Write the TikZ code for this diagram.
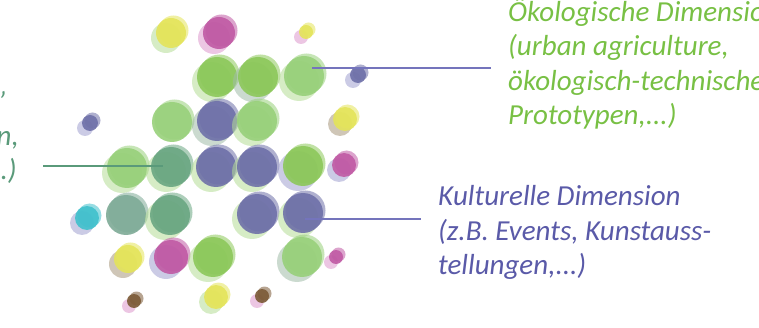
\documentclass[tikz,border=0pt]{standalone}
\usepackage{fontspec}
\setmainfont{Carlito}
\definecolor{gr}{HTML}{8CC85A}
\definecolor{lg}{HTML}{98D07A}
\definecolor{bl}{HTML}{6E70A8}
\definecolor{tg}{HTML}{6AA682}
\definecolor{tl}{HTML}{7DAA96}
\definecolor{ye}{HTML}{E4E45A}
\definecolor{mg}{HTML}{C05AA4}
\definecolor{cy}{HTML}{40C0CC}
\definecolor{br}{HTML}{7B5A36}
\definecolor{sg}{HTML}{B4DC96}
\definecolor{sl}{HTML}{A0A0D0}
\definecolor{sp}{HTML}{DC98CC}
\definecolor{sb}{HTML}{A8987C}
\definecolor{sy}{HTML}{A0BCA8}
\definecolor{txgreen}{HTML}{78C044}
\definecolor{txblue}{HTML}{5A5AA8}
\definecolor{txteal}{HTML}{5A9A7A}
\definecolor{lnblue}{HTML}{7474BC}
\newcommand{\blob}[6]{%
  \ifx\relax#6\relax\else
    \fill[#6, fill opacity=0.55] (#2-5,#3+5) circle[radius=#4];
  \fi
  \fill[#5, fill opacity=0.55] (#2+2.5,#3-2.5) circle[radius=#4];
  \node[blobnode, fill=#5, minimum size=2*#4 pt] (#1) at (#2,#3) {};
}
\tikzset{
  blobnode/.style={circle, inner sep=0pt, outer sep=0pt, fill opacity=0.9},
  txtblock/.style={font=\fontsize{29}{34.5}\selectfont\itshape, inner sep=0pt, align=left, anchor=base west},
  leftfrag/.style={font=\fontsize{29}{34.5}\selectfont\itshape, inner sep=0pt, anchor=base east, text=txteal},
  link/.style={line width=1.5pt}
}
\begin{document}
\begin{tikzpicture}[x=1pt,y=-1pt]
\useasboundingbox (0,0) rectangle (759,328);
\clip (0,0) rectangle (759,328);
% top
\blob{c1}{171}{33}{15}{ye}{sg}
\blob{c2}{219}{33}{16}{mg}{sp}
\blob{c3}{306}{32}{7}{ye}{sp}
% row 2
\blob{c4}{217}{77}{20}{gr}{sg}
\blob{c5}{258}{77}{20}{gr}{sy}
\blob{c6}{304}{76}{20}{lg}{sg}
\blob{c7}{358}{75}{8}{bl}{sl}
% row 3
\blob{c8}{172}{122}{20}{lg}{}
\blob{c9}{217}{121}{20}{bl}{sy}
\blob{c10}{257}{121}{20}{lg}{sg}
\blob{c11}{345}{119}{12}{ye}{sb}
\blob{c12}{90}{123}{8}{bl}{sl}
% row 4
\blob{c13}{127}{168}{20}{lg}{sg}
\blob{c14}{171}{167}{20}{tg}{sg}
\blob{c15}{216}{167}{20}{bl}{sg}
\blob{c16}{257}{167}{20}{bl}{sg}
\blob{c17}{303}{166}{20}{gr}{sl}
\blob{c18}{344}{165}{12}{mg}{sl}
% row 5
\blob{c19}{126}{215}{20}{tl}{}
\blob{c20}{170}{215}{20}{tg}{sg}
\blob{c21}{257}{214}{20}{bl}{sg}
\blob{c22}{303}{213}{20}{bl}{sg}
\blob{c23}{87}{218}{12}{cy}{sl}
% row 6
\blob{c24}{128}{259}{14}{ye}{sb}
\blob{c25}{171}{257}{17}{mg}{sl}
\blob{c26}{213}{257}{20}{gr}{sg}
\blob{c27}{302}{257}{20}{lg}{sy}
\blob{c28}{336}{257}{7}{mg}{sp}
% row 7
\blob{c29}{134}{301}{7}{br}{sp}
\blob{c30}{216}{297}{12}{ye}{sg}
\blob{c31}{262}{296}{7}{br}{sp}
% connectors
\coordinate (e1) at (43,166);
\coordinate (e1c) at (163,166);
\coordinate (e2) at (491,68);
\coordinate (e2c) at (312,68);
\coordinate (e3) at (421,219);
\coordinate (e3c) at (305,219);
\draw[link, txteal] (e1) -- (e1c);
\draw[link, lnblue] (e2c) -- (e2);
\draw[link, lnblue] (e3c) -- (e3);
% texts
\node[txtblock, text=txgreen] (oek) at (508,125) {Ökologische Dimension\\(urban agriculture,\\ökologisch-technische\\Prototypen,...)};
\node[txtblock, text=txblue] (kul) at (438,275) {Kulturelle Dimension\\(z.B. Events, Kunstauss-\\tellungen,...)};
\node[leftfrag] (lf1) at (8,112) {”};
\node[leftfrag] (lf2) at (19,146) {n,};
\node[leftfrag] (lf3) at (17,180) {.)};
\end{tikzpicture}
\end{document}
